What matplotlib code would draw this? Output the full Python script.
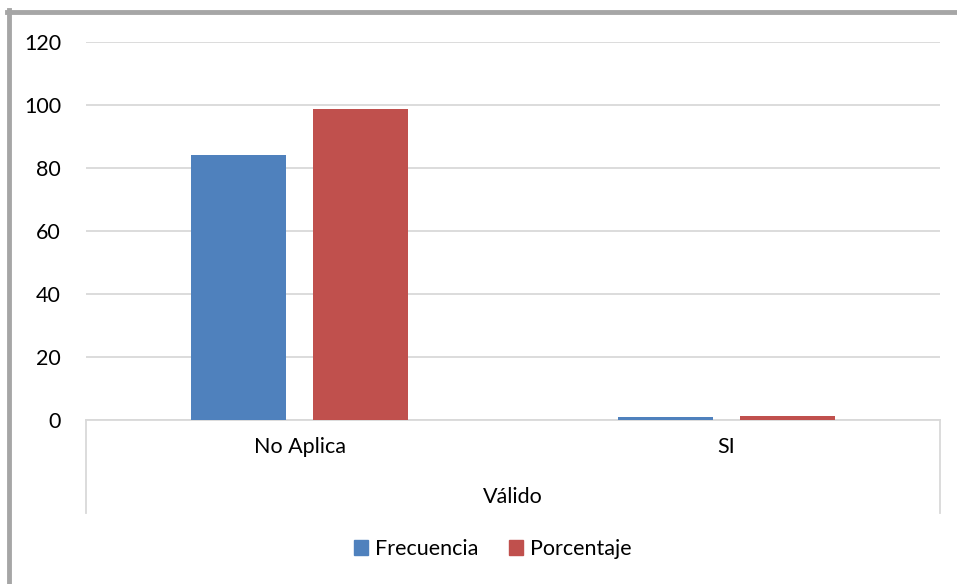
import numpy as np
import matplotlib
matplotlib.use('Agg')
import matplotlib.pyplot as plt
from matplotlib.lines import Line2D
from matplotlib.patches import Patch

#%%
categories = ['No Aplica', 'SI']
group_label = 'Válido'
frecuencia = [84, 1]
porcentaje = [98.8, 1.2]
yticks = [0, 20, 40, 60, 80, 100, 120]

plt.rcParams['font.family'] = ['Lato', 'DejaVu Sans']
fs = 15.5

#%%
fig = plt.figure(figsize=(9.57, 5.84), dpi=100)
ax = fig.add_axes([86/957, 1-420/584, (940-86)/957, (420-42)/584])

x = np.arange(len(categories))
w = 0.2225
off = 0.143
ax.bar(x - off, frecuencia, w, color='#4F81BD', label='Frecuencia', zorder=3)
ax.bar(x + off, porcentaje, w, color='#C0504D', label='Porcentaje', zorder=3)

ax.set_xlim(-0.5, 1.5)
ax.set_ylim(0, 120)
ax.set_yticks(yticks)
ax.set_yticklabels([str(t) for t in yticks], fontsize=fs)
ax.tick_params(axis='y', length=0, pad=18)
ax.set_xticks(x)
ax.set_xticklabels(categories, fontsize=fs)
ax.tick_params(axis='x', length=0, pad=12)
ax.grid(True, axis='y', color='#d9d9d9', lw=1.3, zorder=0)
for s in ['top', 'right', 'left']:
    ax.spines[s].set_visible(False)
ax.spines['bottom'].set_color('#d9d9d9')
ax.spines['bottom'].set_linewidth(1.3)

# multi-level category box
ybot = -93/378
for xa in [0, 1]:
    ax.add_line(Line2D([xa, xa], [0, ybot], transform=ax.transAxes,
                       color='#d9d9d9', lw=1.3, clip_on=False))
ax.text(0.5, -77/378, group_label, transform=ax.transAxes, ha='center',
        va='center', fontsize=fs)

handles = [Patch(color='#4F81BD'), Patch(color='#C0504D')]
fig.legend(handles, ['Frecuencia', 'Porcentaje'], loc='center',
           bbox_to_anchor=(493/957, 1-549/584), ncol=2, frameon=False,
           fontsize=fs, handlelength=0.65, handleheight=0.65,
           handletextpad=0.35, columnspacing=1.4)

# chart border
fig.add_artist(Line2D([9/957, 9/957], [0, 1-10/584], color='#a6a6a6', lw=3.5))
fig.add_artist(Line2D([7/957, 1], [1-12/584, 1-12/584], color='#a6a6a6', lw=3.5))

fig.savefig('out.png', dpi=100)
